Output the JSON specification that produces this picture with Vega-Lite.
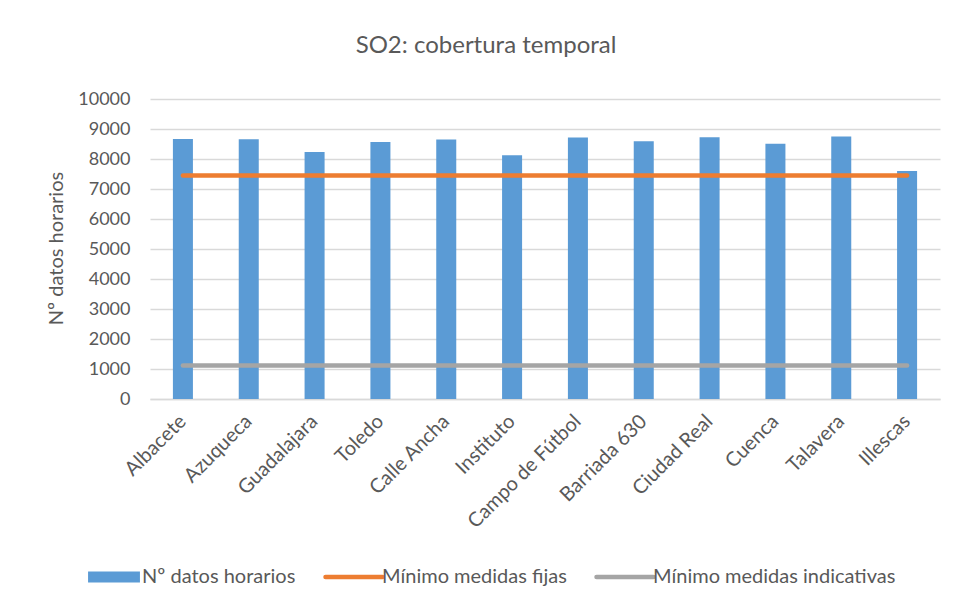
{
  "$schema": "https://vega.github.io/schema/vega-lite/v6.json",
  "width": 790,
  "height": 300,
  "autosize": {"type": "none"},
  "padding": {"left": 150, "top": 99, "right": 15, "bottom": 205},
  "background": "white",
  "title": {
    "text": "SO2: cobertura temporal",
    "fontSize": 24,
    "font": "Lato",
    "fontWeight": "normal",
    "color": "#595959",
    "anchor": "middle",
    "dx": -59,
    "offset": 32
  },
  "data": {
    "values": [
      {"station": "Albacete", "series": "Nº datos horarios", "value": 8668},
      {"station": "Azuqueca", "series": "Nº datos horarios", "value": 8657},
      {"station": "Guadalajara", "series": "Nº datos horarios", "value": 8235},
      {"station": "Toledo", "series": "Nº datos horarios", "value": 8568},
      {"station": "Calle Ancha", "series": "Nº datos horarios", "value": 8646},
      {"station": "Instituto", "series": "Nº datos horarios", "value": 8125},
      {"station": "Campo de Fútbol", "series": "Nº datos horarios", "value": 8713},
      {"station": "Barriada 630", "series": "Nº datos horarios", "value": 8590},
      {"station": "Ciudad Real", "series": "Nº datos horarios", "value": 8724},
      {"station": "Cuenca", "series": "Nº datos horarios", "value": 8512},
      {"station": "Talavera", "series": "Nº datos horarios", "value": 8746},
      {"station": "Illescas", "series": "Nº datos horarios", "value": 7602},
      {"station": "Albacete", "series": "Mínimo medidas fijas", "value": 7446},
      {"station": "Azuqueca", "series": "Mínimo medidas fijas", "value": 7446},
      {"station": "Guadalajara", "series": "Mínimo medidas fijas", "value": 7446},
      {"station": "Toledo", "series": "Mínimo medidas fijas", "value": 7446},
      {"station": "Calle Ancha", "series": "Mínimo medidas fijas", "value": 7446},
      {"station": "Instituto", "series": "Mínimo medidas fijas", "value": 7446},
      {"station": "Campo de Fútbol", "series": "Mínimo medidas fijas", "value": 7446},
      {"station": "Barriada 630", "series": "Mínimo medidas fijas", "value": 7446},
      {"station": "Ciudad Real", "series": "Mínimo medidas fijas", "value": 7446},
      {"station": "Cuenca", "series": "Mínimo medidas fijas", "value": 7446},
      {"station": "Talavera", "series": "Mínimo medidas fijas", "value": 7446},
      {"station": "Illescas", "series": "Mínimo medidas fijas", "value": 7446},
      {"station": "Albacete", "series": "Mínimo medidas indicativas", "value": 1120},
      {"station": "Azuqueca", "series": "Mínimo medidas indicativas", "value": 1120},
      {"station": "Guadalajara", "series": "Mínimo medidas indicativas", "value": 1120},
      {"station": "Toledo", "series": "Mínimo medidas indicativas", "value": 1120},
      {"station": "Calle Ancha", "series": "Mínimo medidas indicativas", "value": 1120},
      {"station": "Instituto", "series": "Mínimo medidas indicativas", "value": 1120},
      {"station": "Campo de Fútbol", "series": "Mínimo medidas indicativas", "value": 1120},
      {"station": "Barriada 630", "series": "Mínimo medidas indicativas", "value": 1120},
      {"station": "Ciudad Real", "series": "Mínimo medidas indicativas", "value": 1120},
      {"station": "Cuenca", "series": "Mínimo medidas indicativas", "value": 1120},
      {"station": "Talavera", "series": "Mínimo medidas indicativas", "value": 1120},
      {"station": "Illescas", "series": "Mínimo medidas indicativas", "value": 1120}
    ]
  },
  "encoding": {
    "x": {
      "field": "station",
      "type": "nominal",
      "sort": null,
      "scale": {"paddingInner": 0, "paddingOuter": 0},
      "axis": {
        "title": null,
        "labelAngle": -45,
        "labelAlign": "right",
        "labelBaseline": "middle",
        "labelPadding": 19,
        "labelFont": "Lato",
        "labelFontSize": 20,
        "labelColor": "#595959",
        "labelLimit": 300,
        "ticks": false,
        "domain": true,
        "domainColor": "#D9D9D9",
        "domainWidth": 1.5,
        "grid": false
      }
    },
    "y": {
      "field": "value",
      "type": "quantitative",
      "scale": {"domain": [0, 10000]},
      "axis": {
        "title": "Nº datos horarios",
        "titleFont": "Lato",
        "titleFontSize": 20,
        "titleFontWeight": "normal",
        "titleColor": "#595959",
        "titleAngle": -90,
        "titleAlign": "center",
        "titleBaseline": "middle",
        "titleX": -94,
        "titleY": 149,
        "values": [0, 1000, 2000, 3000, 4000, 5000, 6000, 7000, 8000, 9000, 10000],
        "format": "d",
        "labelFont": "Lato",
        "labelFontSize": 18,
        "labelColor": "#595959",
        "labelPadding": 20,
        "ticks": false,
        "domain": false,
        "grid": true,
        "gridColor": "#D9D9D9",
        "gridWidth": 1.5
      }
    },
    "color": {
      "field": "series",
      "type": "nominal",
      "scale": {
        "domain": ["Nº datos horarios", "Mínimo medidas fijas", "Mínimo medidas indicativas"],
        "range": ["#5B9BD5", "#ED7D31", "#A5A5A5"]
      },
      "legend": {
        "title": null,
        "orient": "none",
        "direction": "horizontal",
        "legendX": -46,
        "legendY": 468,
        "symbolSize": 3250,
        "labelFont": "Lato",
        "labelFontSize": 20,
        "labelColor": "#595959",
        "labelOffset": 18,
        "labelLimit": 400,
        "columnPadding": 20,
        "encode": {
          "symbols": {
            "update": {
              "shape": {"signal": "datum.value === 'Nº datos horarios' ? 'M-0.91,-0.193H0.91V0.193H-0.91Z' : 'stroke'"},
              "strokeWidth": {"signal": "datum.value === 'Nº datos horarios' ? 0 : 4.5"},
              "stroke": {"signal": "datum.value === 'Nº datos horarios' ? '#5B9BD5' : (datum.value === 'Mínimo medidas fijas' ? '#ED7D31' : '#A5A5A5')"},
              "fill": {"signal": "datum.value === 'Nº datos horarios' ? '#5B9BD5' : (datum.value === 'Mínimo medidas fijas' ? '#ED7D31' : '#A5A5A5')"},
              "strokeCap": {"value": "round"},
              "opacity": {"value": 1},
              "fillOpacity": {"value": 1}
            }
          }
        }
      }
    }
  },
  "layer": [
    {
      "transform": [{"filter": "datum.series === 'Nº datos horarios'"}],
      "mark": {"type": "bar", "width": {"band": 0.304}, "opacity": 1}
    },
    {
      "transform": [{"filter": "datum.series !== 'Nº datos horarios'"}],
      "mark": {"type": "line", "strokeWidth": 4.5, "strokeCap": "round"}
    }
  ],
  "config": {
    "view": {"stroke": null},
    "font": "Lato"
  }
}
